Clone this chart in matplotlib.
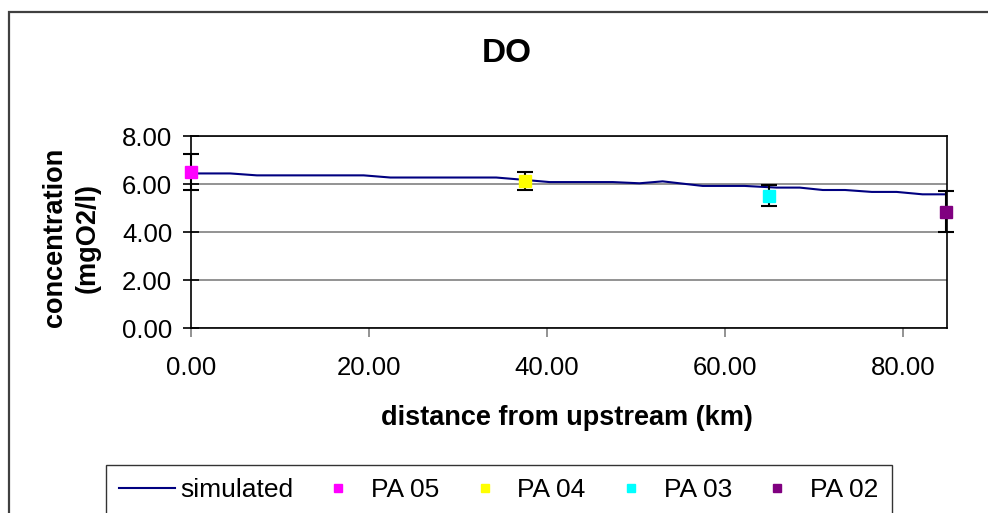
"""DO profile along the river: simulated vs. observed stations."""
import matplotlib
matplotlib.use("Agg")
import matplotlib.pyplot as plt
import matplotlib.patches as mpatches
from matplotlib.ticker import FormatStrFormatter

plt.rcParams["font.family"] = ["Liberation Sans", "DejaVu Sans"]

# simulated DO along the river (km, mg/l)
sim_km = [0, 4.4, 7.4, 19.4, 22.4, 34.3, 37.5, 40.3, 47.4, 50.4, 53.0,
          57.5, 62.2, 65.8, 68.4, 71.0, 73.5, 76.5, 79.3, 82.2, 84.8]
sim_do = [6.44, 6.44, 6.36, 6.36, 6.27, 6.27, 6.17, 6.08, 6.08, 6.03, 6.11,
          5.92, 5.92, 5.85, 5.85, 5.75, 5.75, 5.67, 5.67, 5.57, 5.57]

# observed stations
stations = ["PA 05", "PA 04", "PA 03", "PA 02"]
obs_km = [0.0, 37.5, 65.0, 84.8]
obs_do = [6.5, 6.12, 5.52, 4.85]
obs_err = [0.77, 0.36, 0.45, 0.87]
obs_col = ["#FF00FF", "#FFFF00", "#00FFFF", "#800080"]

fig = plt.figure(figsize=(9.88, 5.13), dpi=100)
ax = fig.add_axes([191 / 988, 1 - 328 / 513, 755.5 / 988, 192 / 513])

# outer chart frame
fig.patches.append(mpatches.Rectangle(
    (8.5 / 988, -0.1), 1.2, 1 - 12 / 513 + 0.1, transform=fig.transFigure,
    fill=False, edgecolor="#404040", linewidth=1.6))

ax.plot(sim_km, sim_do, color="#000080", lw=1.5, label="simulated",
        zorder=3, clip_on=False)
for name, x, y, e, c in zip(stations, obs_km, obs_do, obs_err, obs_col):
    ax.errorbar(x, y, yerr=e, fmt="none", ecolor="black", elinewidth=1.5,
                capsize=5.5, capthick=1.5, zorder=4, clip_on=False)
    ax.plot(x, y, "s", color=c, ms=8, mec=c, label=name, zorder=5,
            clip_on=False)

ax.set_xlim(0, 84.9)
ax.set_ylim(0, 8)
ax.set_xticks([0, 20, 40, 60, 80])
ax.set_yticks([0, 2, 4, 6, 8])
ax.xaxis.set_major_formatter(FormatStrFormatter("%.2f"))
ax.yaxis.set_major_formatter(FormatStrFormatter("%.2f"))
ax.grid(axis="y", color="#808080", lw=1.2)
ax.set_axisbelow(True)
for s in ax.spines.values():
    s.set_color("black")
    s.set_linewidth(1.2)

ax.tick_params(axis="x", direction="out", length=6.5, width=1.2,
               color="#808080", labelsize=18.5, pad=14)
ax.tick_params(axis="y", direction="inout", length=11, width=1.2,
               color="black", labelsize=18.5, pad=8)

ax.set_xlabel("distance from upstream (km)", fontsize=19.5, fontweight="bold")
ax.xaxis.set_label_coords(0.497, -0.40)
ax.set_ylabel("concentration\n(mgO2/l)", fontsize=19.5, fontweight="bold",
              linespacing=1.3)
ax.yaxis.set_label_coords(-0.12, 0.47)

fig.text(507 / 988, 1 - 54 / 513, "DO", ha="center", va="center",
         fontsize=24, fontweight="bold")

leg = fig.legend(loc="upper left", bbox_to_anchor=(106 / 988, 1 - 465 / 513),
                 ncol=5, fontsize=19, frameon=True, fancybox=False,
                 edgecolor="black", handlelength=2.1, handletextpad=0.2,
                 columnspacing=0.66, borderpad=0.5, markerscale=0.75,
                 borderaxespad=0)
leg.get_frame().set_linewidth(1.0)

fig.savefig("out.png", dpi=100, facecolor="white")
